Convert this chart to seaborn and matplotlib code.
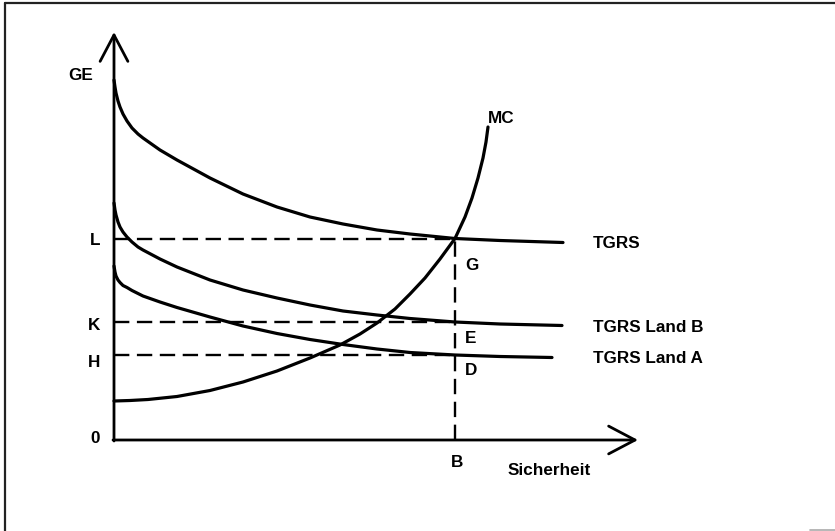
import numpy as np
import pandas as pd
import seaborn as sns
import matplotlib.pyplot as plt

tgrs_x = [0, 1, 2, 4, 6, 9, 13, 18, 24, 29, 46, 63, 96, 129, 163, 196, 229, 263, 296, 341, 386, 449]
tgrs_y = [360, 353, 347, 339, 333, 326, 319, 312, 306, 302, 290, 280, 262, 246, 233, 223, 216, 210, 206, 201.5, 199.5, 197.5]

land_b_x = [0, 1, 2, 4, 6, 9, 13, 18, 24, 29, 46, 63, 96, 129, 163, 196, 229, 263, 296, 341, 386, 448]
land_b_y = [237, 230, 225, 218, 213, 208, 203, 198, 193, 190, 181, 173, 160, 150, 142, 135, 129, 125, 121.5, 118, 116, 114.5]

land_a_x = [0, 1, 2, 4, 6, 9, 13, 18, 24, 29, 46, 63, 96, 129, 163, 196, 229, 263, 296, 341, 386, 438]
land_a_y = [174, 168, 164, 160, 157.5, 154.5, 152.5, 149.5, 146.5, 144, 138, 132.5, 123, 114, 106.5, 100.5, 95.5, 91, 87.5, 85, 83.5, 82.5]

mc_x = [0, 16, 34, 63, 96, 129, 163, 196, 226, 246, 263, 281, 296, 311, 326, 341, 351, 358, 364, 369, 372, 374]
mc_y = [39, 39.5, 40.5, 43.5, 49.5, 58, 69, 82, 95, 106, 117, 131, 146, 162, 181, 201.5, 223, 242, 262, 282, 298, 313]

# Niveaus und Punkte
level_names = ["L", "K", "H"]
level_values = [201.5, 118, 85]
b_value = 341
curve_labels = ["TGRS", "TGRS Land B", "TGRS Land A"]
point_labels = ["G", "E", "D"]

sns.set_style("white")
plt.rcParams['font.family'] = ['Liberation Sans', 'DejaVu Sans']

fig = plt.figure(figsize=(8.35, 5.31), dpi=100)
ax = fig.add_axes([0, 0, 1, 1])
ax.set_xlim(-114, 721)
ax.set_ylim(-91, 440)
ax.axis("off")

for xs, ys in [(tgrs_x, tgrs_y), (land_b_x, land_b_y), (land_a_x, land_a_y), (mc_x, mc_y)]:
    df = pd.DataFrame({"x": xs, "y": ys})
    sns.lineplot(data=df, x="x", y="y", sort=False, estimator=None, color="black",
                 linewidth=2.3, ax=ax, solid_joinstyle="round", solid_capstyle="round")

# gestrichelte Hilfslinien
for v in level_values:
    ax.plot([0, b_value], [v, v], color="black", linewidth=1.7, dashes=(6.5, 3.2))
ax.plot([b_value, b_value], [0, level_values[0]], color="black", linewidth=1.7, dashes=(6.5, 3.2))

# Achsen mit Pfeilen
arrow = dict(arrowstyle="->, head_length=1.9, head_width=1.0", color="black", lw=2.0,
             shrinkA=0, shrinkB=0)
ax.annotate("", xy=(524, 0), xytext=(-1, 0), arrowprops=arrow)
ax.annotate("", xy=(0, 408), xytext=(0, -1), arrowprops=arrow)

# Beschriftungen
txt = dict(fontsize=12.3, fontweight="bold", color="black", va="baseline")
ax.text(-46, 360, "GE", ha="left", **txt)
for name, yb in zip(level_names, [195, 110, 73]):
    ax.text(-14, yb, name, ha="right", **txt)
ax.text(-14, -3, "0", ha="right", **txt)
ax.text(343.5, -27, "B", ha="center", **txt)
ax.text(435, -35, "Sicherheit", ha="center", **txt)
ax.text(374, 317, "MC", ha="left", **txt)
for lab, yb in zip(curve_labels, [192, 108, 77]):
    ax.text(479, yb, lab, ha="left", **txt)
for lab, yb in zip(point_labels, [170, 97, 65]):
    ax.text(351, yb, lab, ha="left", **txt)

# Rahmen (links und oben)
ax.plot([0.006, 0.006], [0, 0.9944], color="#222222", linewidth=1.6, transform=ax.transAxes, clip_on=False)
ax.plot([0.006, 1], [0.9944, 0.9944], color="#222222", linewidth=1.6, transform=ax.transAxes, clip_on=False)
ax.plot([0.97, 1], [0.002, 0.002], color="#aaaaaa", linewidth=1.2, transform=ax.transAxes, clip_on=False)

fig.savefig("out.png", dpi=100)
